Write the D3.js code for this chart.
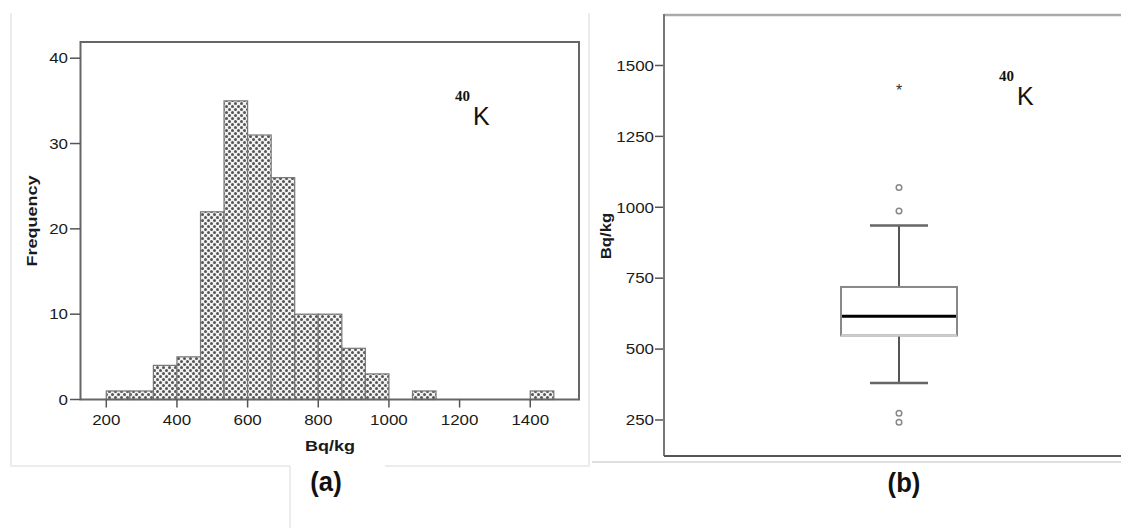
<!DOCTYPE html>
<html>
<head>
<meta charset="utf-8">
<script src="https://cdn.jsdelivr.net/npm/d3@7"></script>
<style>
  body { margin: 0; background: #fff; }
  svg { display: block; font-family: "Liberation Sans", Arial, sans-serif; }
</style>
</head>
<body>
<svg id="fig" width="1121" height="528"></svg>
<script>
// histogram data (40K, Bq/kg), bin width 66.7
var binEdges = [200, 266.7, 333.3, 400, 466.7, 533.3, 600, 666.7, 733.3, 800, 866.7, 933.3, 1000, 1066.7, 1133.3, 1400, 1466.7];
var binCounts = [1, 1, 4, 5, 22, 35, 31, 26, 10, 10, 6, 3, 0, 1, 0, 1];
var xTicks = [200, 400, 600, 800, 1000, 1200, 1400];
var yTicksHist = [0, 10, 20, 30, 40];

// boxplot data
var boxStats = { min: 380, q1: 548, median: 616, q3: 719, max: 936 };
var outliers = [1070, 987, 274, 242];
var extremes = [1433];
var yTicksBox = [250, 500, 750, 1000, 1250, 1500];

var svg = d3.select("#fig");

// pattern for bars
var defs = svg.append("defs");
var pat = defs.append("pattern")
    .attr("id", "dots")
    .attr("width", 6).attr("height", 6)
    .attr("patternUnits", "userSpaceOnUse");
pat.append("rect").attr("width", 6).attr("height", 6).attr("fill", "#f2f2f2");
pat.append("circle").attr("cx", 1.5).attr("cy", 1.5).attr("r", 1.5).attr("fill", "#555");
pat.append("circle").attr("cx", 4.5).attr("cy", 4.5).attr("r", 1.5).attr("fill", "#555");

// stretched text helper (the source font is wide)
function label(g, x, y, txt, opts) {
  opts = opts || {};
  var t = g.append("g")
      .attr("transform", "translate(" + x + "," + y + ")" + (opts.rotate ? " rotate(" + opts.rotate + ")" : "") + " scale(" + (opts.sx || 1.13) + ",1)")
    .append("text")
      .attr("text-anchor", opts.anchor || "middle")
      .attr("dy", opts.dy || "0.35em")
      .attr("font-size", opts.size || 15)
      .attr("font-weight", opts.bold ? "bold" : "normal")
      .attr("fill", opts.fill || "#1a1a1a")
      .text(txt);
  if (opts.family) t.attr("font-family", opts.family);
  return t;
}

// light composition lines
var light = "#ececec";
svg.append("line").attr("x1", 11).attr("y1", 13).attr("x2", 11).attr("y2", 466).attr("stroke", light).attr("stroke-width", 2);
svg.append("line").attr("x1", 589).attr("y1", 13).attr("x2", 589).attr("y2", 466).attr("stroke", light).attr("stroke-width", 2);
svg.append("line").attr("x1", 10).attr("y1", 466).attr("x2", 290).attr("y2", 466).attr("stroke", light).attr("stroke-width", 2);
svg.append("line").attr("x1", 385).attr("y1", 466).attr("x2", 590).attr("y2", 466).attr("stroke", light).attr("stroke-width", 2);
svg.append("line").attr("x1", 290).attr("y1", 466).attr("x2", 290).attr("y2", 528).attr("stroke", light).attr("stroke-width", 2);
svg.append("line").attr("x1", 592).attr("y1", 462).attr("x2", 1121).attr("y2", 462).attr("stroke", "#d4d4d4").attr("stroke-width", 1.5);

// ---------- (a) histogram ----------
var ga = svg.append("g");
var x = d3.scaleLinear().domain([127, 1538]).range([80.5, 579]);
var y = d3.scaleLinear().domain([0, 41.9]).range([399.5, 42]);

var bins = binCounts.map(function(c, i) { return { x0: binEdges[i], x1: binEdges[i + 1], n: c }; })
    .filter(function(d) { return d.n > 0; });

ga.selectAll(".bar")
    .data(bins)
  .enter().append("rect")
    .attr("class", "bar")
    .attr("x", function(d) { return x(d.x0); })
    .attr("y", function(d) { return y(d.n); })
    .attr("width", function(d) { return x(d.x1) - x(d.x0); })
    .attr("height", function(d) { return y(0) - y(d.n); })
    .attr("fill", "url(#dots)")
    .attr("stroke", "#777")
    .attr("stroke-width", 1.2);

// frame
ga.append("rect")
    .attr("x", x.range()[0]).attr("y", y.range()[1])
    .attr("width", x.range()[1] - x.range()[0])
    .attr("height", y.range()[0] - y.range()[1])
    .attr("fill", "none").attr("stroke", "#666").attr("stroke-width", 2);

// ticks
ga.selectAll(".xt").data(xTicks).enter().append("line")
    .attr("x1", function(d) { return x(d); }).attr("x2", function(d) { return x(d); })
    .attr("y1", y(0)).attr("y2", y(0) + 8)
    .attr("stroke", "#555").attr("stroke-width", 1.5);
xTicks.forEach(function(d) { label(ga, x(d), 420, d); });

ga.selectAll(".yt").data(yTicksHist).enter().append("line")
    .attr("x1", 70).attr("x2", x.range()[0])
    .attr("y1", function(d) { return y(d); }).attr("y2", function(d) { return y(d); })
    .attr("stroke", "#555").attr("stroke-width", 1.5);
yTicksHist.forEach(function(d) { label(ga, 68, y(d), d, { anchor: "end" }); });

label(ga, 330, 446, "Bq/kg", { bold: true, size: 15, sx: 1.2 });
label(ga, 32, 221, "Frequency", { bold: true, size: 15, sx: 1.2, rotate: -90 });

// 40K
ga.append("text").attr("x", 455).attr("y", 101).attr("font-family", "Liberation Serif, serif")
    .attr("font-weight", "bold").attr("font-size", 15).attr("fill", "#111").text("40");
ga.append("text").attr("x", 473).attr("y", 125).attr("font-size", 25).attr("fill", "#111").text("K");

label(svg, 326, 482, "(a)", { bold: true, size: 27, sx: 0.95, fill: "#111" });

// ---------- (b) boxplot ----------
var gb = svg.append("g");
var yb = d3.scaleLinear().domain([123, 1678]).range([456, 15]);
var cx = 899;
var boxW = 116;

// frame
gb.append("line").attr("x1", 664).attr("x2", 1121).attr("y1", 15).attr("y2", 15).attr("stroke", "#aaa").attr("stroke-width", 2.5);
gb.append("line").attr("x1", 664).attr("x2", 664).attr("y1", 14).attr("y2", 456).attr("stroke", "#777").attr("stroke-width", 2);
gb.append("line").attr("x1", 664).attr("x2", 1121).attr("y1", 456).attr("y2", 456).attr("stroke", "#555").attr("stroke-width", 2);

gb.selectAll(".yt").data(yTicksBox).enter().append("line")
    .attr("x1", 655).attr("x2", 663)
    .attr("y1", function(d) { return yb(d); }).attr("y2", function(d) { return yb(d); })
    .attr("stroke", "#555").attr("stroke-width", 1.5);
yTicksBox.forEach(function(d) { label(gb, 654, yb(d), d, { anchor: "end" }); });

label(gb, 606, 236, "Bq/kg", { bold: true, size: 14, sx: 1.2, rotate: -90 });

// whiskers
gb.append("line").attr("x1", cx).attr("x2", cx).attr("y1", yb(boxStats.max)).attr("y2", yb(boxStats.q3)).attr("stroke", "#555").attr("stroke-width", 2);
gb.append("line").attr("x1", cx).attr("x2", cx).attr("y1", yb(boxStats.q1)).attr("y2", yb(boxStats.min)).attr("stroke", "#555").attr("stroke-width", 2);
[boxStats.max, boxStats.min].forEach(function(v) {
  gb.append("line").attr("x1", cx - boxW / 4).attr("x2", cx + boxW / 4)
      .attr("y1", yb(v)).attr("y2", yb(v)).attr("stroke", "#666").attr("stroke-width", 2.5);
});

// box
gb.append("rect")
    .attr("x", cx - boxW / 2).attr("y", yb(boxStats.q3))
    .attr("width", boxW).attr("height", yb(boxStats.q1) - yb(boxStats.q3))
    .attr("fill", "#fff").attr("stroke", "#888").attr("stroke-width", 2);
gb.append("line").attr("x1", cx - boxW / 2).attr("x2", cx + boxW / 2)
    .attr("y1", yb(boxStats.q1)).attr("y2", yb(boxStats.q1)).attr("stroke", "#ccc").attr("stroke-width", 2);
gb.append("line").attr("x1", cx - boxW / 2 + 1).attr("x2", cx + boxW / 2 - 1)
    .attr("y1", yb(boxStats.median)).attr("y2", yb(boxStats.median)).attr("stroke", "#000").attr("stroke-width", 3);

// outliers
gb.selectAll(".out").data(outliers).enter().append("circle")
    .attr("cx", cx).attr("cy", function(d) { return yb(d); }).attr("r", 2.8)
    .attr("fill", "#fff").attr("stroke", "#888").attr("stroke-width", 1.5);
gb.selectAll(".ext").data(extremes).enter().append("text")
    .attr("x", cx).attr("y", function(d) { return yb(d); }).attr("dy", "0.75em")
    .attr("text-anchor", "middle").attr("font-size", 16).attr("fill", "#333").text("*");

// 40K
gb.append("text").attr("x", 999).attr("y", 81).attr("font-family", "Liberation Serif, serif")
    .attr("font-weight", "bold").attr("font-size", 15).attr("fill", "#111").text("40");
gb.append("text").attr("x", 1017).attr("y", 105).attr("font-size", 25).attr("fill", "#111").text("K");

label(svg, 904, 483, "(b)", { bold: true, size: 27, sx: 0.95, fill: "#111" });
</script>
</body>
</html>
